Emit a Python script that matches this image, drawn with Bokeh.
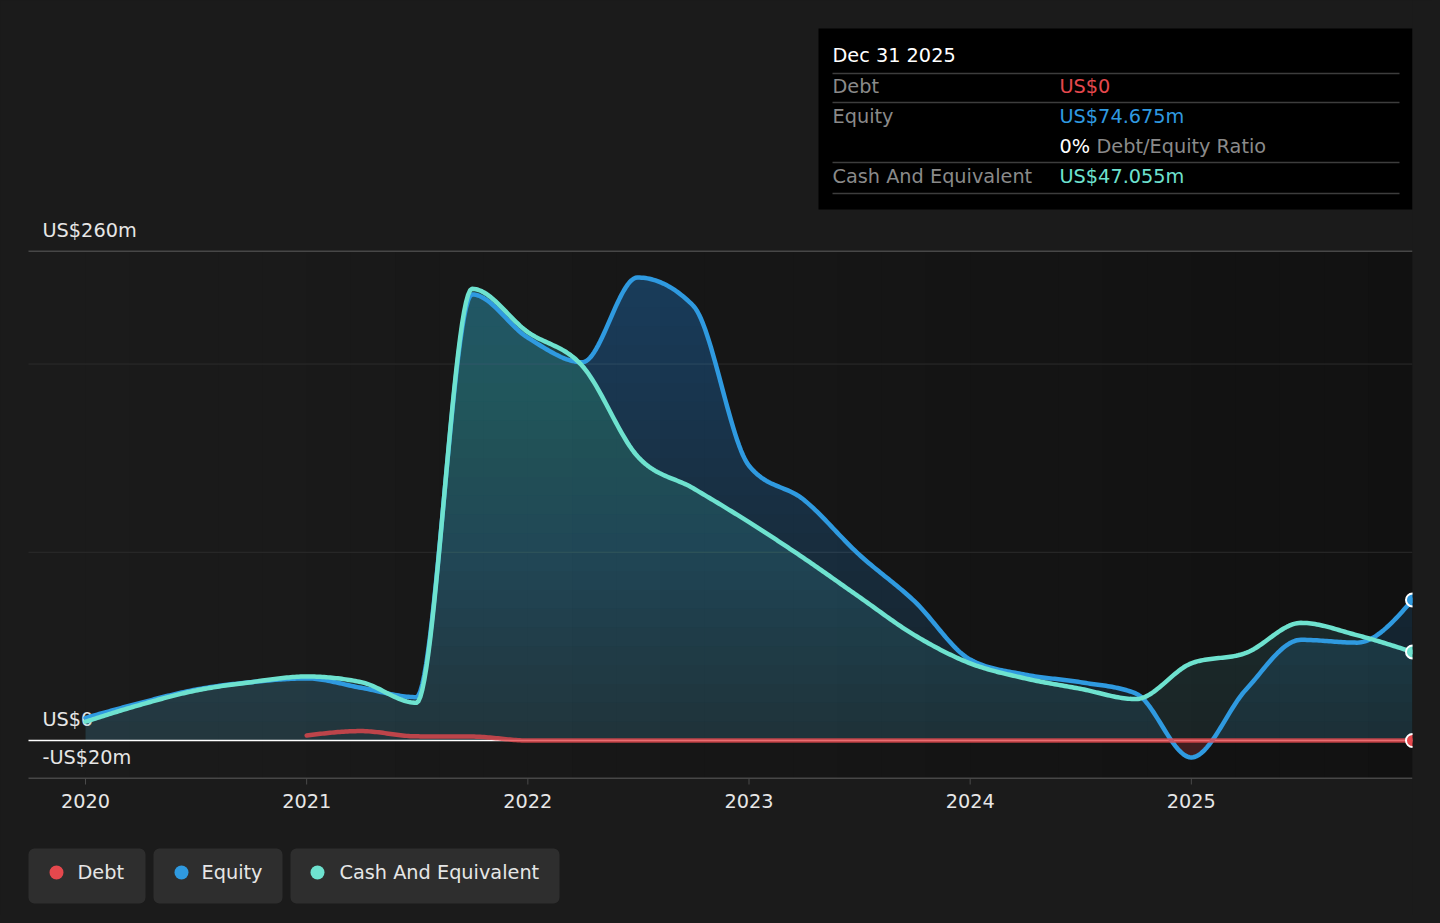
import numpy as np
import pandas as pd
from bokeh.plotting import figure
from bokeh.models import Range1d, BoxAnnotation, GlobalInlineStyleSheet
from bokeh.core.properties import value
from bokeh.embed import file_html
from bokeh.resources import INLINE

# ---------------- data (US$ millions) ----------------
quarter_ends = pd.date_range("2019-12-31", "2025-12-31", freq="QE")
equity = [12.0, 20.0, 27.0, 31.0, 33.0, 28.0, 23.0, 237.0, 214.0, 201.0, 246.0, 231.0,
          146.0, 128.0, 99.0, 74.0, 43.0, 35.0, 31.0, 25.0, -9.0, 27.0, 53.5, 52.0, 74.675]
cash = [10.0, 19.0, 26.5, 31.0, 34.0, 31.0, 20.0, 240.0, 217.0, 199.0, 151.0, 134.0,
        116.0, 97.0, 76.5, 56.0, 41.0, 33.0, 27.5, 22.0, 41.0, 46.5, 62.5, 56.0, 47.055]
debt_first_index = 4  # debt reported from 2020-12-31
debt = [2.7, 5.0, 2.2, 2.1, 0.0, 0.0, 0.0, 0.0, 0.0, 0.0, 0.0, 0.0, 0.0, 0.0, 0.0,
        0.0, 0.0, 0.0, 0.0, 0.0, 0.0]
year_ticks = [2020, 2021, 2022, 2023, 2024, 2025]
y_label_values = [260, 0, -20]
y_label_texts = ["US$260m", "US$0", "-US$20m"]
grid_strong = [260, -20]
grid_faint = [200, 100]
series_names = ["Debt", "Equity", "Cash And Equivalent"]
tooltip_date = "Dec 31 2025"
tooltip_values = ["US$0", "US$74.675m", "US$47.055m"]
ratio_text = "0%"

# ---------------- styling ----------------
BG = "#1b1b1b"
RED = "#e5484d"
BLUE = "#2f9ae0"
TEAL = "#6ee2cf"
CASH_FILL = "#64c6cd"
FONT = value("DejaVu Sans")
FS = "19.3px"

W, H = 1432, 915
PXX = (1412 - 85) / 6.0       # pixels per year
PXY = (778 - 251) / 280.0     # pixels per US$m


def X(sx):
    return 2020 + (sx - 85) / PXX


def Y(sy):
    return (740 - sy) / PXY


def dec_year(ts):
    return ts.year + ts.dayofyear / (366.0 if ts.is_leap_year else 365.0)


qx = np.array([dec_year(t) for t in quarter_ends])


def monotone(xs, ys, n=28):
    xs = np.asarray(xs, float)
    ys = np.asarray(ys, float)
    h = np.diff(xs)
    s = np.diff(ys) / h
    N = len(xs)
    t = np.zeros(N)
    for i in range(1, N - 1):
        p_ = (s[i - 1] * h[i] + s[i] * h[i - 1]) / (h[i - 1] + h[i])
        t[i] = (np.sign(s[i - 1]) + np.sign(s[i])) * min(abs(s[i - 1]), abs(s[i]), 0.5 * abs(p_))
    t[0] = (3 * s[0] - t[1]) / 2
    t[-1] = (3 * s[-1] - t[-2]) / 2
    ox, oy = [], []
    for i in range(N - 1):
        u = np.linspace(0, 1, n, endpoint=(i == N - 2))
        h00 = 2 * u**3 - 3 * u**2 + 1
        h10 = u**3 - 2 * u**2 + u
        h01 = -2 * u**3 + 3 * u**2
        h11 = u**3 - u**2
        ox.append(xs[i] + u * h[i])
        oy.append(h00 * ys[i] + h10 * h[i] * t[i] + h01 * ys[i + 1] + h11 * h[i] * t[i + 1])
    return np.concatenate(ox), np.concatenate(oy)


ex, ey = monotone(qx, equity)
cx, cy = monotone(qx, cash)
dx, dy = monotone(qx[debt_first_index:], debt)

p = figure(width=W, height=H, x_range=Range1d(X(0), X(1412)), y_range=Range1d(Y(H), Y(0)),
           x_axis_location=None, y_axis_location=None, toolbar_location=None,
           output_backend="svg", min_border_left=0, min_border_right=W - 1412,
           min_border_top=0, min_border_bottom=0,
           background_fill_color=BG, border_fill_color=BG, outline_line_color=None)
p.grid.visible = False
p.stylesheets = [GlobalInlineStyleSheet(css="html, body { background: #1b1b1b; }")]

# darker plot area with a horizontal gradient (opaque, slightly overlapping strips)
N_STRIPS = 30
edges = [85 + i * (1412 - 85) / N_STRIPS for i in range(N_STRIPS + 1)]
greys = []
for i in range(N_STRIPS):
    g = int(round(27 - 10 * (i + 0.5) / N_STRIPS))
    greys.append("#%02x%02x%02x" % (g, g, g))
p.quad(left=[X(e) for e in edges[:-1]], right=[X(min(e + 1.5, 1412)) for e in edges[1:]],
       bottom=[Y(778)] * N_STRIPS, top=[Y(251)] * N_STRIPS, fill_color=greys, line_color=None)

# gridlines
x0, x1 = X(28), X(1412)
p.segment(x0=[x0] * len(grid_faint), x1=[x1] * len(grid_faint), y0=grid_faint, y1=grid_faint,
          line_color="#2c2c2c", line_width=1)
p.segment(x0=[x0] * len(grid_strong), x1=[x1] * len(grid_strong), y0=grid_strong, y1=grid_strong,
          line_color="#474747", line_width=1.5)
# ticks
p.segment(x0=year_ticks, x1=year_ticks, y0=[-20] * len(year_ticks),
          y1=[Y(784)] * len(year_ticks), line_color="#4a4a4a", line_width=1)

# y labels
p.text(x=[X(42)] * 3, y=y_label_values, text=y_label_texts, y_offset=-21,
       text_color="#e6e6e6", text_font=FONT, text_font_size=FS,
       text_align="left", text_baseline="middle")
# x labels
p.text(x=year_ticks, y=[Y(800)] * len(year_ticks), text=[str(v) for v in year_ticks],
       text_color="#e6e6e6", text_font=FONT, text_font_size=FS,
       text_align="center", text_baseline="middle")


def add_fill(xd, yd, color, step_alpha):
    p.varea(x=xd, y1=np.zeros_like(yd), y2=np.maximum(yd, 0), fill_color=color, fill_alpha=0.10)
    for th in range(10, 261, 10):
        p.varea(x=xd, y1=np.full_like(yd, th), y2=np.maximum(yd, th),
                fill_color=color, fill_alpha=step_alpha)


add_fill(ex, ey, BLUE, 0.0101)
add_fill(cx, cy, CASH_FILL, 0.0125)
p.varea(x=ex, y1=np.minimum(ey, 0), y2=np.zeros_like(ey), fill_color=RED, fill_alpha=0.22)

# zero line
p.segment(x0=[x0], x1=[x1], y0=[0], y1=[0], line_color="white", line_width=1.5)

# series lines
p.line(ex, ey, line_color=BLUE, line_width=4.5, line_join="round", line_cap="round")
p.line(cx, cy, line_color=TEAL, line_width=4.5, line_join="round", line_cap="round")
p.line(dx, dy, line_color=RED, line_width=4.5, line_alpha=0.8, line_join="round", line_cap="round")

# end markers
p.scatter(x=[qx[-1]] * 3, y=[debt[-1], equity[-1], cash[-1]], size=13,
          fill_color=[RED, BLUE, TEAL], line_color="white", line_width=2)

# tooltip box
p.quad(left=[X(818)], right=[X(1412)], top=[Y(28)], bottom=[Y(209)],
       fill_color="black", line_color=None)
sep_y = [Y(73), Y(102), Y(162), Y(193)]
p.segment(x0=[X(832)] * 4, x1=[X(1399)] * 4, y0=sep_y, y1=sep_y, line_color="#3d3d3d", line_width=1.5)
p.text(x=[X(832)], y=[Y(55)], text=[tooltip_date], text_color="white", text_font=FONT,
       text_font_size=FS, text_baseline="middle")
p.text(x=[X(832)] * 3, y=[Y(86), Y(116), Y(176)], text=series_names, text_color="#8a8a8a",
       text_font=FONT, text_font_size=FS, text_baseline="middle")
p.text(x=[X(1059)] * 3, y=[Y(86), Y(116), Y(176)], text=tooltip_values,
       text_color=[RED, BLUE, TEAL], text_font=FONT, text_font_size=FS, text_baseline="middle")
p.text(x=[X(1059)], y=[Y(146)], text=[ratio_text], text_color="white", text_font=FONT,
       text_font_size=FS, text_baseline="middle")
p.text(x=[X(1096)], y=[Y(146)], text=["Debt/Equity Ratio"], text_color="#8a8a8a", text_font=FONT,
       text_font_size=FS, text_baseline="middle")

# legend
boxes = [(28, 145), (153, 282), (290, 559)]
for (l, r) in boxes:
    p.add_layout(BoxAnnotation(left=X(l), right=X(r), top=Y(848), bottom=Y(903),
                               fill_color="#2e2e2e", fill_alpha=1.0, line_color=None,
                               border_radius=6, level="underlay"))
p.scatter(x=[X(56), X(181), X(317)], y=[Y(872)] * 3, size=14,
          fill_color=[RED, BLUE, TEAL], line_color=None)
p.text(x=[X(77), X(201), X(339)], y=[Y(872)] * 3, text=series_names, text_color="#e6e6e6",
       text_font=FONT, text_font_size=FS, text_baseline="middle")

open("out.html", "w").write(file_html(p, INLINE))
